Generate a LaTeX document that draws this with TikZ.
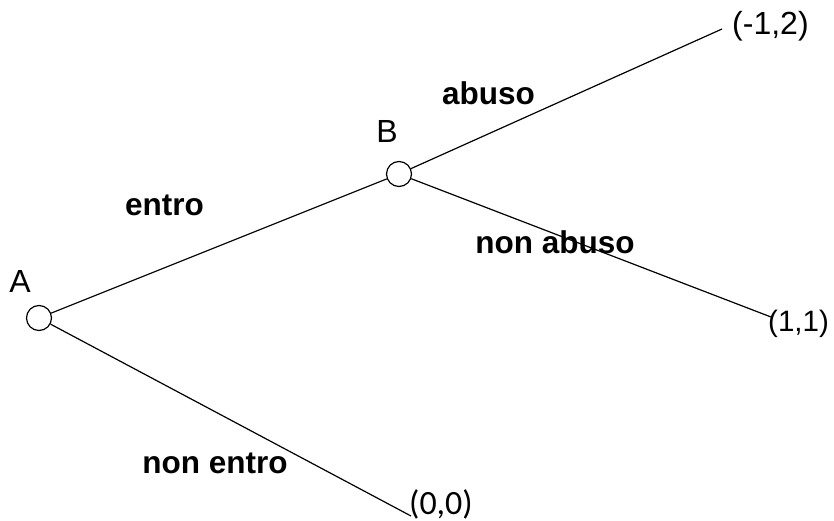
\documentclass[tikz,border=0pt]{standalone}
\usepackage{fontspec}
\setmainfont{Liberation Sans}
\newfontfamily\payofffont{Carlito}
\begin{document}
\begin{tikzpicture}[x=1pt,y=-1pt,
  decision/.style={draw,circle,line width=1.2pt,fill=white,minimum size=25pt,inner sep=0pt},
  branch/.style={line width=1.2pt},
  movelabel/.style={font=\fontsize{31.5}{37}\selectfont\bfseries,anchor=base,inner sep=0pt},
  playerlabel/.style={font=\fontsize{32}{38}\selectfont,anchor=base,inner sep=0pt},
  payoff/.style={font=\fontsize{32}{38}\selectfont,anchor=base west,inner sep=0pt}]
\useasboundingbox (0,0) rectangle (834,521);

% decision nodes
\node[decision] (A) at (39,318) {};
\node[decision] (B) at (399,174) {};

% free ends of the terminal branches
\coordinate (abusoEnd) at (722,29);
\coordinate (nonabusoEnd) at (771,317);
\coordinate (nonentroEnd) at (411,516);

% branches
\draw[branch] (A) -- (B);
\draw[branch] (A) -- (nonentroEnd);
\draw[branch] (B) -- (abusoEnd);
\draw[branch] (B) -- (nonabusoEnd);

% players
\node[playerlabel] (labA) at (20,292) {A};
\node[playerlabel] (labB) at (387,143) {B};

% moves
\node[movelabel] (mEntro) at (164.5,215) {entro};
\node[movelabel] (mNonEntro) at (215,473) {non entro};
\node[movelabel] (mAbuso) at (488.5,105) {abuso};
\node[movelabel] (mNonAbuso) at (555,253) {non abuso};

% payoffs
\node[payoff] (p1) at (732,35) {(-1,2)};
\node[payoff,font=\fontsize{29.5}{35}\selectfont] (p2) at (768,331) {(1,1)};
\node[payoff,font=\payofffont\fontsize{34}{40}\selectfont] (p3) at (409,514) {(0,0)};
\end{tikzpicture}
\end{document}
